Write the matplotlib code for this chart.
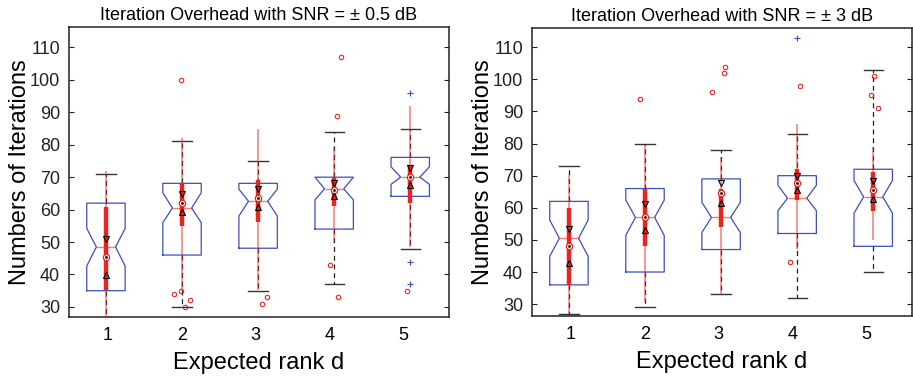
import matplotlib
matplotlib.use("Agg")
import matplotlib.pyplot as plt
import numpy as np

plt.rcParams["font.family"] = ["Liberation Sans", "DejaVu Sans"]

RANKS = [1, 2, 3, 4, 5]
TITLES = ["Iteration Overhead with SNR = \u00b1 0.5 dB",
          "Iteration Overhead with SNR = \u00b1 3 dB"]

# ---- SNR = ±0.5 dB : blue notched boxplot ----
A_Q1 = [35.0, 46.0, 48.1, 54.0, 64.1]
A_MED = [48.5, 60.5, 62.6, 66.4, 70.0]
A_Q3 = [62.0, 68.1, 68.1, 70.0, 76.1]
A_CILO = [42.6, 56.0, 58.0, 63.0, 67.8]
A_CIHI = [54.2, 65.2, 66.3, 70.0, 73.2]
A_WLO = [26.0, 30.0, 35.0, 37.0, 48.0]
A_WHI = [71.0, 81.0, 75.0, 84.0, 85.0]
A_PLUS = [[], [], [], [], [96, 44, 37]]
# ---- SNR = ±0.5 dB : red compact boxplot ----
A_RLO = [26.0, 35.0, 35.2, 49.6, 48.5]
A_RHI = [72.0, 82.0, 85.0, 79.4, 92.0]
A_RQ1 = [35.2, 55.0, 56.3, 61.1, 62.1]
A_RQ3 = [60.9, 68.1, 69.0, 69.8, 73.7]
A_RMED = [45.5, 62.0, 63.5, 66.0, 70.0]
A_TDN = [51.0, 64.8, 66.3, 68.1, 72.7]
A_TUP = [39.9, 59.3, 60.8, 64.2, 67.6]
A_OUT = [[], [100, 34, 35, 32, 30], [31, 33.1], [107, 89, 43, 33], [35]]
A_JIT = [[], [-0.01, -0.11, -0.02, 0.11, 0.04], [0.05, 0.125],
         [0.09, 0.036, -0.054, 0.05], [-0.045]]

# ---- SNR = ±3 dB : blue notched boxplot ----
B_Q1 = [36.0, 40.0, 47.0, 52.0, 48.0]
B_MED = [50.5, 57.0, 57.0, 63.0, 63.4]
B_Q3 = [62.0, 66.0, 69.0, 70.0, 72.0]
B_CILO = [44.9, 51.4, 52.3, 59.1, 58.3]
B_CIHI = [56.2, 62.4, 61.7, 67.0, 68.5]
B_WLO = [27.0, 29.0, 33.0, 32.0, 40.0]
B_WHI = [73.0, 80.0, 78.0, 83.0, 103.0]
B_PLUS = [[], [], [], [113], []]
# ---- SNR = ±3 dB : red compact boxplot ----
B_RLO = [27.0, 31.0, 33.0, 47.3, 50.0]
B_RHI = [70.2, 79.5, 75.9, 86.0, 79.0]
B_RQ1 = [36.0, 48.1, 54.1, 62.4, 59.1]
B_RQ3 = [59.8, 66.0, 66.0, 72.0, 71.0]
B_RMED = [48.1, 57.0, 64.5, 67.6, 65.5]
B_TDN = [53.3, 61.2, 67.8, 70.0, 68.3]
B_TUP = [42.7, 53.1, 61.4, 65.5, 62.8]
B_OUT = [[], [94], [96, 102, 104], [98, 43], [101, 95, 91]]
B_JIT = [[], [-0.074], [-0.124, 0.043, 0.047], [0.034, -0.092], [0.01, -0.027, 0.068]]

BLUE = "#3a4fc0"
RED = "#e8261f"


def panel(ax, title, ylim, q1, med, q3, cilo, cihi, wlo, whi, plus,
          rlo, rhi, rq1, rq3, rmed, tdn, tup, out, jit):
    # boxes sit a little wider apart than the tick labels in the original
    pos = np.array(RANKS) * 1.03 - 0.057
    stats = [dict(q1=a, med=m, q3=b, cilo=c1, cihi=c2, whislo=w1, whishi=w2, fliers=f)
             for a, m, b, c1, c2, w1, w2, f in zip(q1, med, q3, cilo, cihi, wlo, whi, plus)]
    ax.bxp(stats, positions=pos, widths=0.52, shownotches=True, manage_ticks=False,
           boxprops=dict(color=BLUE, lw=0.9),
           whiskerprops=dict(color="#222222", ls=(0, (4, 3)), lw=0.9),
           capprops=dict(color="#333333", lw=1.0),
           medianprops=dict(color=RED, lw=1.0, alpha=0.6),
           flierprops=dict(marker="+", markeredgecolor=BLUE, markersize=4.5, mew=0.8))
    # compact red boxplot on top
    ax.vlines(pos, rlo, rhi, color=RED, lw=1.1, alpha=0.6, zorder=3)
    ax.vlines(pos, rq1, rq3, color=RED, lw=3.2, zorder=4)
    ax.plot(pos, tdn, ls="none", marker="v", ms=4.5, mfc="none", mec="k", mew=0.8, zorder=6)
    ax.plot(pos, tup, ls="none", marker="^", ms=4.5, mfc="none", mec="k", mew=0.8, zorder=6)
    ax.plot(pos, rmed, ls="none", marker="o", ms=4.5, mfc="white", mec=RED, mew=0.9, zorder=5)
    ax.plot(pos, rmed, ls="none", marker=".", ms=2.0, color="k", zorder=7)
    ox = [p + j for p, js in zip(pos, jit) for j in js]
    oy = [v for vs in out for v in vs]
    ax.plot(ox, oy, ls="none", marker="o", ms=3.2, mfc="none", mec=RED, mew=0.8, zorder=5)

    ax.set_xlim(0.473, 5.618)
    ax.set_ylim(*ylim)
    ax.set_xticks(RANKS)
    ax.set_yticks(np.arange(30, 111, 10))
    ax.tick_params(axis="x", length=0, labelsize=13, pad=7)
    ax.tick_params(axis="y", direction="in", length=3.5, width=0.8, left=True, right=True,
                   labelsize=13, pad=6.5, colors="#222222")
    for s in ax.spines.values():
        s.set_linewidth(1.1)
        s.set_color("#222222")
    ax.set_title(title, fontsize=13, pad=5)
    ax.set_xlabel("Expected rank d", fontsize=17)
    ax.set_ylabel("Numbers of Iterations", fontsize=17)
    ax.xaxis.set_label_coords(0.5, -0.12)
    ax.yaxis.set_label_coords(-0.10, 0.5)


fig = plt.figure(figsize=(9.13, 3.79), dpi=100)
ax1 = fig.add_axes([0.0756, 0.1636, 0.4162, 0.7652])
ax2 = fig.add_axes([0.5827, 0.1662, 0.4162, 0.7600])
panel(ax1, TITLES[0], (26.9, 116.3), A_Q1, A_MED, A_Q3, A_CILO, A_CIHI, A_WLO, A_WHI, A_PLUS,
      A_RLO, A_RHI, A_RQ1, A_RQ3, A_RMED, A_TDN, A_TUP, A_OUT, A_JIT)
panel(ax2, TITLES[1], (26.3, 116.0), B_Q1, B_MED, B_Q3, B_CILO, B_CIHI, B_WLO, B_WHI, B_PLUS,
      B_RLO, B_RHI, B_RQ1, B_RQ3, B_RMED, B_TDN, B_TUP, B_OUT, B_JIT)
fig.savefig("out.png", dpi=100, facecolor="white")
